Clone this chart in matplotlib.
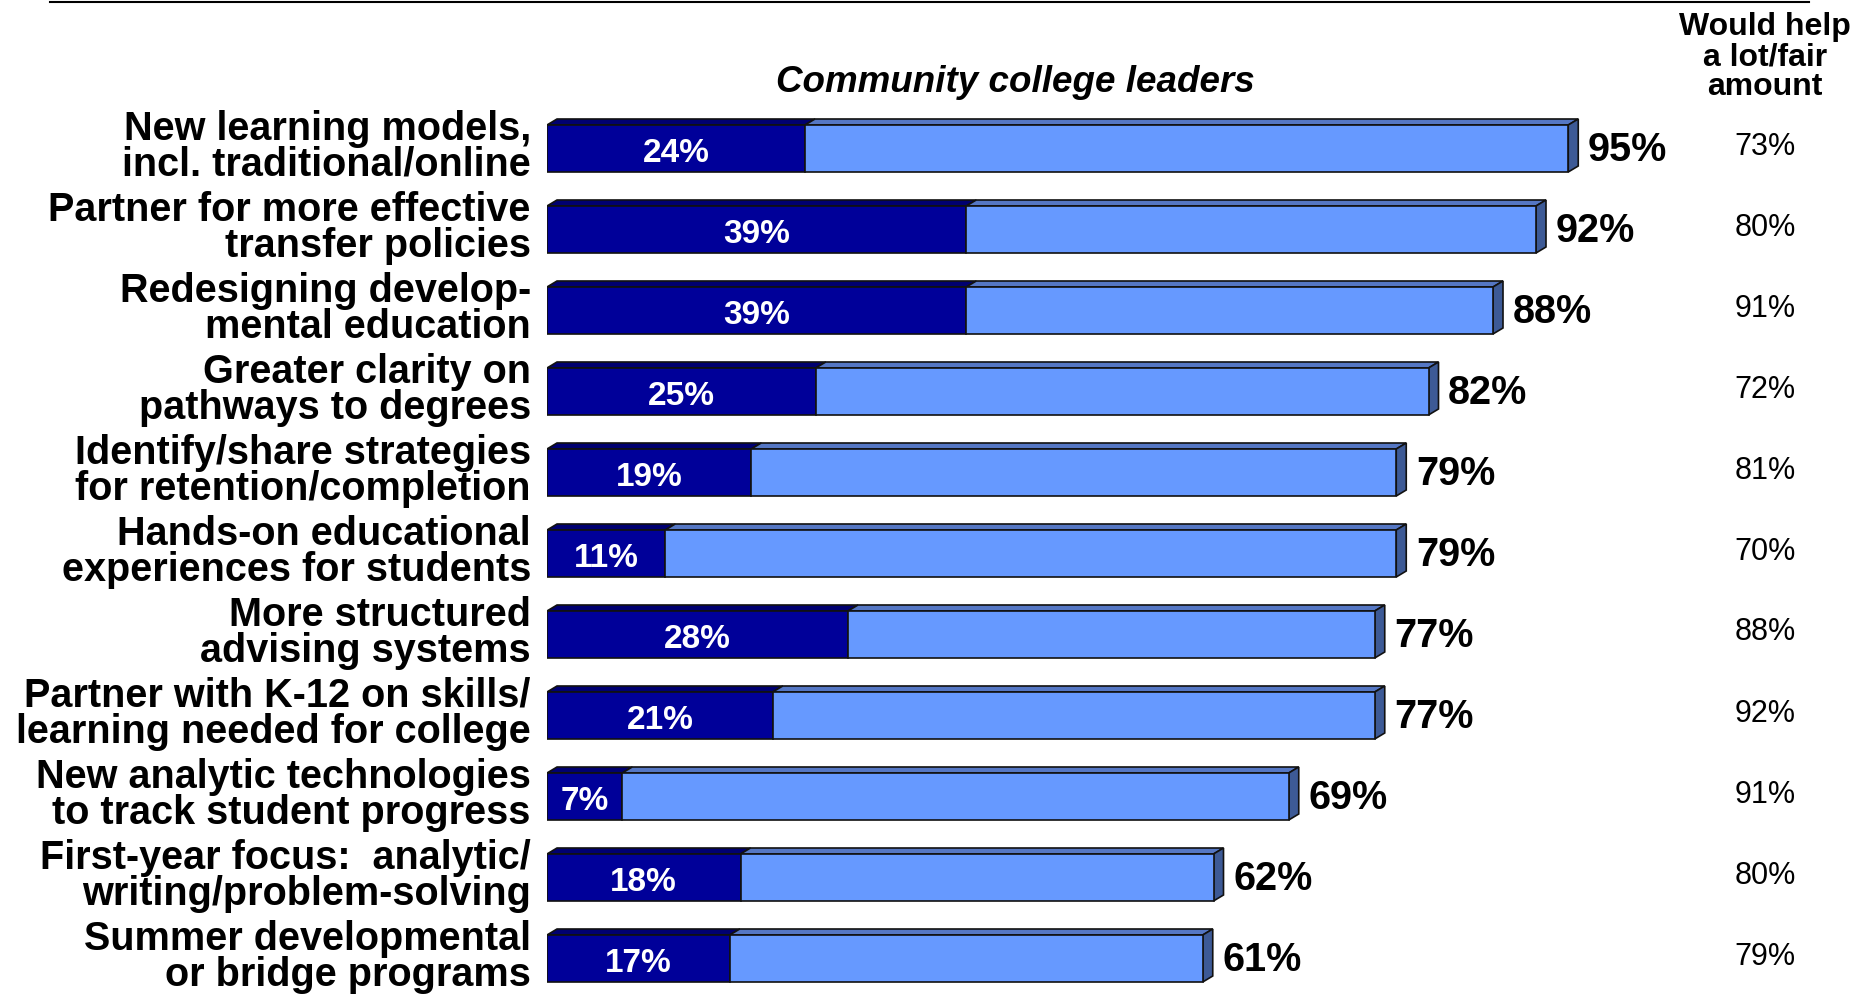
import matplotlib.pyplot as plt
from matplotlib.patches import Polygon, Rectangle
from matplotlib.lines import Line2D

plt.rcParams['font.family'] = ['Liberation Sans', 'DejaVu Sans']

# Survey items, top to bottom
labels = [
    "New learning models,\nincl. traditional/online",
    "Partner for more effective\ntransfer policies",
    "Redesigning develop-\nmental education",
    "Greater clarity on\npathways to degrees",
    "Identify/share strategies\nfor retention/completion",
    "Hands-on educational\nexperiences for students",
    "More structured\nadvising systems",
    "Partner with K-12 on skills/\nlearning needed for college",
    "New analytic technologies\nto track student progress",
    "First-year focus:  analytic/\nwriting/problem-solving",
    "Summer developmental\nor bridge programs",
]
great_deal = [24, 39, 39, 25, 19, 11, 28, 21, 7, 18, 17]
total = [95, 92, 88, 82, 79, 79, 77, 77, 69, 62, 61]
would_help = [73, 80, 91, 72, 81, 70, 88, 92, 91, 80, 79]

DARK = '#000099'
DARK_TOP = '#000070'
LIGHT = '#6699FF'
LIGHT_TOP = '#5577C4'
SIDE = '#3D5A96'
EDGE = '#111111'

W, H = 1870, 997
fig = plt.figure(figsize=(W / 100, H / 100), dpi=100)

# axes: x in percent (0 at bar start), y in rows
x0_px, px_per_pct = 547, 10.75
ax = fig.add_axes([x0_px / W, 0, 100 * px_per_pct / W, 1])
ax.set_xlim(0, 100)
row0_px, row_px = 148.5, 81
ax.set_ylim((H - row0_px) / row_px, -row0_px / row_px)
ax.axis('off')

bar_h = 47 / row_px
dx = 10 / px_per_pct
dy = 6 / row_px


def seg3d(ax, y, x_start, x_end, face, top, side=False):
    t = y - bar_h / 2
    b = y + bar_h / 2
    ax.add_patch(Rectangle((x_start, t), x_end - x_start, bar_h,
                           facecolor=face, edgecolor=EDGE, lw=1.2, zorder=3))
    ax.add_patch(Polygon([(x_start, t), (x_start + dx, t - dy),
                          (x_end + dx, t - dy), (x_end, t)],
                         facecolor=top, edgecolor=EDGE, lw=1.2, zorder=2))
    if side:
        ax.add_patch(Polygon([(x_end, t), (x_end + dx, t - dy),
                              (x_end + dx, b - dy), (x_end, b)],
                             facecolor=SIDE, edgecolor=EDGE, lw=1.2, zorder=2))


for i, (lab, g, tot, wh) in enumerate(zip(labels, great_deal, total, would_help)):
    seg3d(ax, i, 0, g, DARK, DARK_TOP)
    seg3d(ax, i, g, tot, LIGHT, LIGHT_TOP, side=True)
    ax.text(g / 2, i + 0.06, f"{g}%", color='white', fontsize=24,
            fontweight='bold', ha='center', va='center', zorder=4)
    ax.text(tot + dx + 0.9, i + 0.015, f"{tot}%", fontsize=28.5,
            fontweight='bold', ha='left', va='center')
    ax.text(-1.5, i - 0.02, lab, fontsize=28.5, fontweight='bold',
            ha='right', va='center', linespacing=0.93)
    fig.text(1765 / W, 1 - (row0_px + i * row_px - 2) / H, f"{wh}%",
             fontsize=22, ha='center', va='center')

fig.text(1015 / W, 1 - 82 / H, "Community college leaders", fontsize=26.5,
         fontweight='bold', fontstyle='italic', ha='center', va='center')
fig.text(1765 / W, 1 - 57 / H, "Would help\na lot/fair\namount", fontsize=23,
         fontweight='bold', ha='center', va='center', linespacing=1.02)

fig.add_artist(Line2D([50 / W, 1809 / W], [1 - 2 / H, 1 - 2 / H],
                      color='black', lw=1.5, transform=fig.transFigure))

fig.savefig('out.png', dpi=100, facecolor='white')
